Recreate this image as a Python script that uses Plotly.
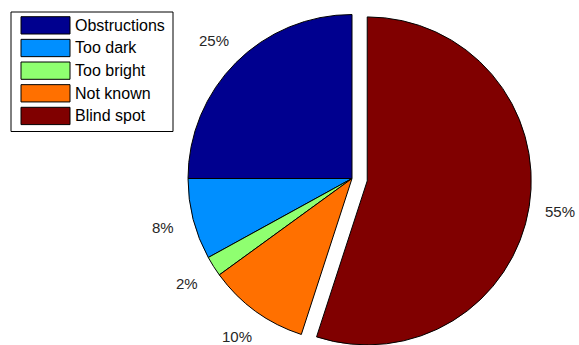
import math
import plotly.graph_objects as go

# ---- data ----
categories = ["Obstructions", "Too dark", "Too bright", "Not known", "Blind spot"]
values = [25, 8, 2, 10, 55]
pct_labels = ["25%", "8%", "2%", "10%", "55%"]
colors = ["#00008F", "#008FFF", "#8FFF70", "#FF7000", "#800000"]
exploded = [False, False, False, False, True]

# ---- layout constants (pixels) ----
W, H = 579, 345
R = 164.0            # pie radius
CX, CY = 352.0, 178.5
PULL = 0.094         # fraction of radius for exploded slice
LABEL_R = 1.19       # label radius as fraction of pie radius
FONT = "Liberation Sans, Arial, sans-serif"
ROT = -90            # start first slice at 12 o'clock

total = float(sum(values))

def px_to_paper(x, y):
    return x / W, 1 - y / H

def domain_for(cx, cy, r):
    return dict(x=[(cx - r) / W, (cx + r) / W],
                y=[max(0.0, (H - (cy + r)) / H), min(1.0, (H - (cy - r)) / H)])

# mid angles (counterclockwise from 12 o'clock)
mids = []
cum = 0.0
for v in values:
    mids.append(2 * math.pi * (cum + v / 2) / total)
    cum += v

def direction(theta):
    # unit vector in pixel coords (y down) for ccw angle from top
    return -math.sin(theta), -math.cos(theta)

fig = go.Figure()

base_colors = [("rgba(0,0,0,0)" if e else c) for c, e in zip(colors, exploded)]
base_lines = [("rgba(0,0,0,0)" if e else "black") for e in exploded]
fig.add_trace(go.Pie(
    labels=categories, values=values, sort=False, direction="counterclockwise",
    rotation=ROT, textinfo="none", hoverinfo="skip", showlegend=False,
    marker=dict(colors=base_colors, line=dict(color=base_lines, width=1)),
    domain=domain_for(CX, CY, R),
))

for i, e in enumerate(exploded):
    if not e:
        continue
    dx, dy = direction(mids[i])
    ecx, ecy = CX + dx * PULL * R, CY + dy * PULL * R
    ex_colors = [colors[j] if j == i else "rgba(0,0,0,0)" for j in range(len(values))]
    ex_lines = ["black" if j == i else "rgba(0,0,0,0)" for j in range(len(values))]
    fig.add_trace(go.Pie(
        labels=categories, values=values, sort=False, direction="counterclockwise",
        rotation=ROT, textinfo="none", hoverinfo="skip", showlegend=False,
        marker=dict(colors=ex_colors, line=dict(color=ex_lines, width=1)),
        domain=domain_for(ecx, ecy, R),
    ))

annotations = []
for i, (lab, th) in enumerate(zip(pct_labels, mids)):
    dx, dy = direction(th)
    cx, cy = CX, CY
    if exploded[i]:
        cx, cy = CX + dx * PULL * R, CY + dy * PULL * R
    x, y = px_to_paper(cx + dx * LABEL_R * R, cy + dy * LABEL_R * R)
    annotations.append(dict(x=x, y=y, xref="paper", yref="paper", text=lab,
                            showarrow=False, xanchor="center", yanchor="middle",
                            font=dict(family=FONT, size=15, color="#262626")))

shapes = []
LX0, LX1, LY0, LY1 = 11, 173, 12, 131.5
x0, y0 = px_to_paper(LX0, LY0)
x1, y1 = px_to_paper(LX1, LY1)
shapes.append(dict(type="rect", xref="paper", yref="paper", x0=x0, y0=y0, x1=x1, y1=y1,
                   line=dict(color="black", width=1), fillcolor="white"))
SW_X0, SW_X1, SW_TOP, SW_H, PITCH = 21, 70, 16.7, 17.3, 22.65
for i, (cat, col) in enumerate(zip(categories, colors)):
    top = SW_TOP + i * PITCH
    a0, b0 = px_to_paper(SW_X0, top)
    a1, b1 = px_to_paper(SW_X1, top + SW_H)
    shapes.append(dict(type="rect", xref="paper", yref="paper", x0=a0, y0=b0, x1=a1, y1=b1,
                       line=dict(color="black", width=1), fillcolor=col))
    tx, ty = px_to_paper(73, top + SW_H / 2)
    annotations.append(dict(x=tx, y=ty, xref="paper", yref="paper", text=cat,
                            showarrow=False, xanchor="left", yanchor="middle",
                            font=dict(family=FONT, size=16, color="black")))

fig.update_layout(
    width=W, height=H, margin=dict(l=0, r=0, t=0, b=0),
    paper_bgcolor="white", plot_bgcolor="white",
    shapes=shapes, annotations=annotations,
)

fig.write_html("out.html")
